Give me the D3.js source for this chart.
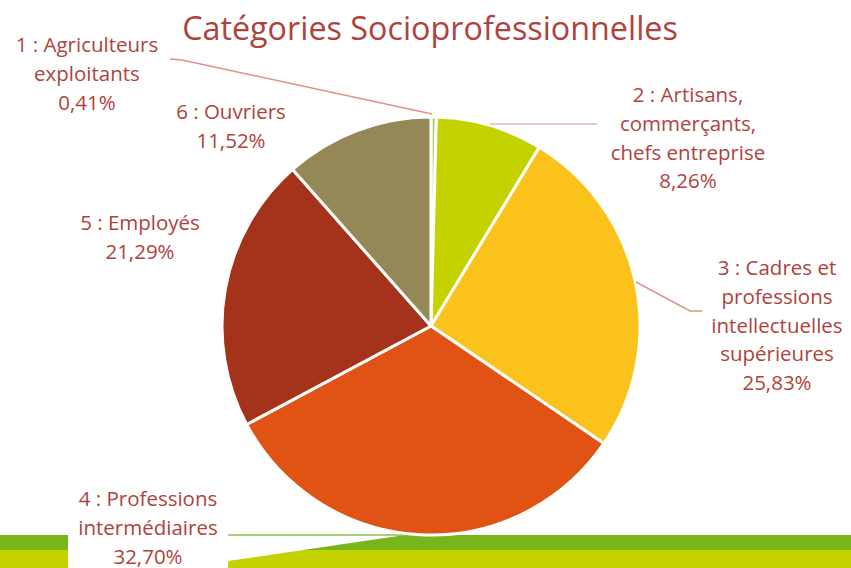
<!DOCTYPE html>
<html><head><meta charset="utf-8">
<script src="https://cdn.jsdelivr.net/npm/d3@7"></script>
<style>html,body{margin:0;padding:0;background:#fff;overflow:hidden}</style>
</head><body>
<svg id="chart" width="851" height="568"></svg>
<script>
const title = "Catégories Socioprofessionnelles";
const categories = ["1 : Agriculteurs exploitants","2 : Artisans, commerçants, chefs entreprise","3 : Cadres et professions intellectuelles supérieures","4 : Professions intermédiaires","5 : Employés","6 : Ouvriers"];
const values = [0.41, 8.26, 25.83, 32.70, 21.29, 11.52];
const valueLabels = ["0,41%","8,26%","25,83%","32,70%","21,29%","11,52%"];
const labelLines = [
  ["1 : Agriculteurs","exploitants","0,41%"],
  ["2 : Artisans,","commerçants,","chefs entreprise","8,26%"],
  ["3 : Cadres et","professions","intellectuelles","supérieures","25,83%"],
  ["4 : Professions","intermédiaires","32,70%"],
  ["5 : Employés","21,29%"],
  ["6 : Ouvriers","11,52%"]
];
const colors = ["#a6c97a","#c4d200","#fbc21b","#e05314","#a5331b","#938856"];

const W = 851, H = 568;
const cx = 431, cy = 326, R = 209;
const textColor = "#b0423d";
const font = "'Open Sans', sans-serif";

const svg = d3.select("#chart");

// bottom decorative bands
svg.append("rect").attr("x",0).attr("y",535).attr("width",W).attr("height",16).attr("fill","#77b51b");
svg.append("rect").attr("x",0).attr("y",550).attr("width",W).attr("height",18).attr("fill","#c4d200");
// white label box and wedge
svg.append("rect").attr("x",68).attr("y",480).attr("width",160).attr("height",88).attr("fill","#fff");
svg.append("path").attr("d","M228,535 L405,535 L228,561 Z").attr("fill","#fff");

// title
svg.append("text").attr("x",430).attr("y",40).attr("text-anchor","middle")
  .attr("font-family",font).attr("font-size",32.3).attr("fill",textColor).text(title);

// pie
const pie = d3.pie().sort(null).value(d=>d);
const arcs = pie(values);
const arc = d3.arc().innerRadius(0).outerRadius(R);
const g = svg.append("g").attr("transform",`translate(${cx},${cy})`);
g.selectAll("path").data(arcs).join("path")
  .attr("d",arc).attr("fill",(d,i)=>colors[i])
  .attr("stroke","#fff").attr("stroke-width",3).attr("stroke-linejoin","round");

// leader lines
const leaders = [
  {pts:[[170,59],[182,60],[432,114]], c:"#e0918b"},
  {pts:[[490,124],[597,124]], c:"#ebb3ae"},
  {pts:[[636,282],[690,311],[702,311]], c:"#e0918b"},
  {pts:[[228,535],[403,535]], c:"#8cc04a"}
];
leaders.forEach(l=>{
  svg.append("path").attr("d",d3.line()(l.pts)).attr("fill","none")
    .attr("stroke",l.c).attr("stroke-width",1.5);
});

// labels
const labelPos = [
  {x:87, y:45}, {x:688, y:95}, {x:777, y:268}, {x:148, y:499}, {x:140, y:223}, {x:231, y:112}
];
const lh = 28.8;
labelLines.forEach((lines,i)=>{
  const t = svg.append("text").attr("text-anchor","middle")
    .attr("font-family",font).attr("font-size",20.5).attr("fill",textColor);
  lines.forEach((s,j)=>{
    t.append("tspan").attr("x",labelPos[i].x).attr("y",labelPos[i].y + j*lh + 7).text(s);
  });
});
</script>
</body></html>
